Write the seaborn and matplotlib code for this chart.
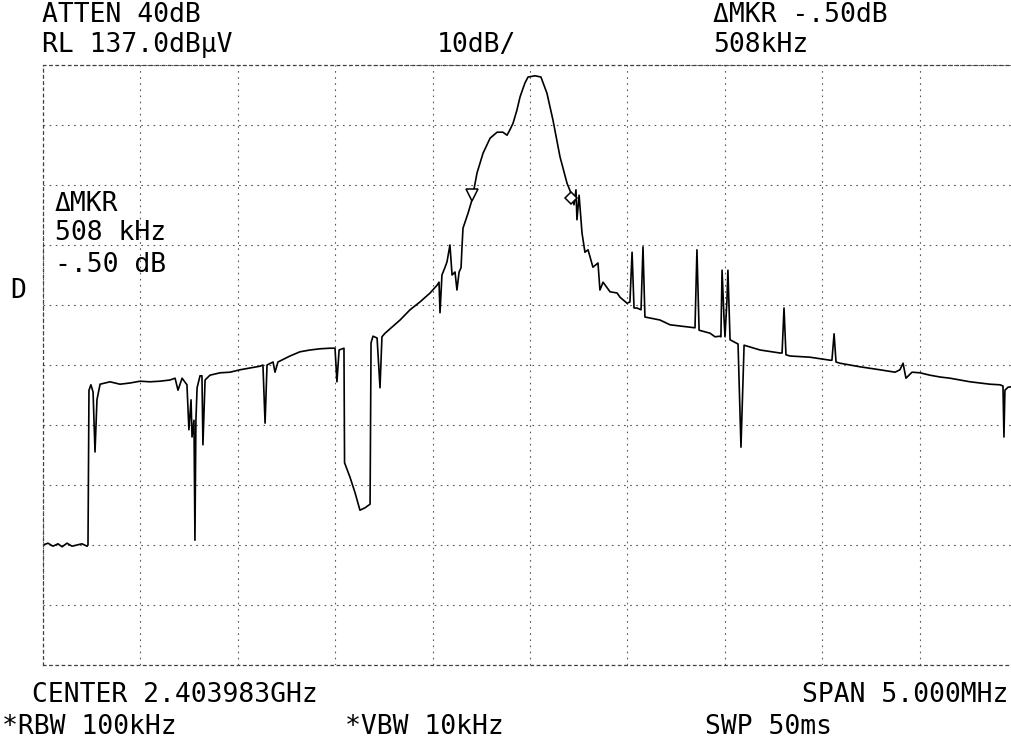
import numpy as np
import pandas as pd
import matplotlib
matplotlib.use("Agg")
import matplotlib.pyplot as plt
import seaborn as sns

# ---- data (frequency offset from center in MHz, level in dBuV) ----
freq_mhz = [
    -2.500, -2.474, -2.449, -2.423, -2.402, -2.377, -2.351, -2.325, -2.300, -2.274, -2.269,
    -2.264, -2.254, -2.243, -2.233, -2.223, -2.207, -2.156, -2.105, -2.053, -2.002, -1.951,
    -1.899, -1.848, -1.822, -1.807, -1.786, -1.761, -1.751, -1.740, -1.735, -1.725, -1.720,
    -1.715, -1.709, -1.694, -1.684, -1.679, -1.668, -1.643, -1.591, -1.540, -1.489, -1.437,
    -1.386, -1.371, -1.360, -1.350, -1.319, -1.309, -1.294, -1.232, -1.181, -1.129, -1.078,
    -1.027, -1.001, -0.991, -0.980, -0.955, -0.952, -0.924, -0.898, -0.873, -0.847, -0.821,
    -0.816, -0.806, -0.785, -0.770, -0.760, -0.744, -0.667, -0.616, -0.565, -0.513, -0.477,
    -0.467, -0.462, -0.452, -0.436, -0.426, -0.411, -0.400, -0.385, -0.375, -0.364, -0.354,
    -0.349, -0.344, -0.318, -0.298, -0.272, -0.241, -0.205, -0.169, -0.139, -0.118, -0.103,
    -0.087, -0.067, -0.051, -0.026, -0.010, 0.026, 0.056, 0.087, 0.118, 0.154, 0.190,
    0.216, 0.226, 0.236, 0.241, 0.252, 0.267, 0.282, 0.298, 0.323, 0.349, 0.359,
    0.375, 0.411, 0.447, 0.462, 0.498, 0.513, 0.524, 0.534, 0.549, 0.570, 0.580,
    0.590, 0.667, 0.719, 0.770, 0.821, 0.847, 0.857, 0.868, 0.924, 0.950, 0.975,
    0.980, 0.986, 0.996, 1.001, 1.011, 1.016, 1.027, 1.068, 1.083, 1.099, 1.181,
    1.283, 1.294, 1.304, 1.314, 1.335, 1.437, 1.540, 1.550, 1.561, 1.571, 1.591,
    1.694, 1.797, 1.874, 1.899, 1.915, 1.930, 1.961, 2.002, 2.053, 2.105, 2.156,
    2.207, 2.259, 2.310, 2.361, 2.413, 2.428, 2.433, 2.438, 2.454, 2.500,
]
level_dbuv = [
    57.0, 57.3, 56.8, 57.2, 56.7, 57.3, 56.8, 57.0, 57.2, 56.8, 57.0,
    82.8, 83.7, 82.5, 72.5, 81.2, 83.8, 84.2, 83.8, 84.0, 84.3, 84.2,
    84.3, 84.5, 84.8, 82.8, 84.8, 83.7, 76.2, 81.2, 75.0, 77.8, 57.8,
    77.8, 83.2, 85.2, 85.2, 73.7, 84.5, 85.3, 85.7, 85.8, 86.2, 86.5,
    86.8, 87.0, 77.3, 87.0, 87.5, 85.8, 87.5, 88.5, 89.2, 89.5, 89.7,
    89.8, 89.8, 84.2, 89.5, 89.8, 70.7, 68.3, 65.7, 62.8, 63.2, 63.8,
    90.7, 91.8, 91.5, 83.2, 91.7, 92.3, 94.5, 96.2, 97.5, 99.0, 100.3,
    100.8, 95.7, 102.0, 103.3, 104.2, 107.0, 102.0, 102.5, 99.5, 102.5, 103.2,
    106.7, 109.8, 112.3, 114.5, 119.0, 122.3, 124.8, 125.8, 125.8, 125.3, 126.2,
    127.3, 129.5, 131.7, 134.0, 135.0, 135.2, 135.0, 132.3, 127.8, 121.7, 117.3,
    115.2, 113.7, 116.2, 111.2, 115.3, 109.0, 105.8, 106.2, 103.3, 104.0, 99.5,
    100.8, 99.2, 99.0, 98.3, 97.3, 97.5, 105.8, 96.5, 96.5, 96.2, 106.7,
    95.0, 94.5, 93.7, 93.5, 93.3, 93.2, 106.2, 92.8, 92.3, 91.7, 91.8,
    91.7, 102.8, 94.8, 91.7, 97.8, 102.8, 91.2, 90.5, 73.3, 90.3, 89.5,
    89.0, 89.0, 96.5, 88.7, 88.5, 88.3, 87.8, 87.8, 92.2, 87.5, 87.3,
    86.7, 86.2, 85.8, 86.2, 87.3, 84.8, 85.8, 85.7, 85.3, 85.0, 84.8,
    84.5, 84.2, 84.0, 83.8, 83.7, 83.5, 75.0, 82.8, 83.3, 83.5,
]
marker_freq = [-0.297, 0.211]
marker_level = [115.4, 114.9]

ref_level = 137.0
db_per_div = 10
span_mhz = 5.0

top_texts_left = ["ATTEN 40dB", "RL 137.0dB\u03bcV"]
scale_text = "10dB/"
top_texts_right = ["\u0394MKR -.50dB", "508kHz"]
inner_texts = ["\u0394MKR", "508 kHz", "-.50 dB"]
bottom_texts = ["CENTER 2.403983GHz", "SPAN 5.000MHz", "*RBW 100kHz", "*VBW 10kHz", "SWP 50ms"]

df = pd.DataFrame({"freq": freq_mhz, "level": level_dbuv})

sns.set_theme(style="white")
plt.rcParams["font.family"] = ["DejaVu Sans Mono", "DejaVu Sans"]

W, H = 1012, 744
fig = plt.figure(figsize=(W / 100, H / 100), dpi=100)
fig.patch.set_facecolor("white")
ax = fig.add_axes([43 / W, (H - 665) / H, 974 / W, 600 / H])
ax.set_facecolor("white")

sns.lineplot(data=df, x="freq", y="level", sort=False, estimator=None,
             color="black", linewidth=1.2, ax=ax)
ax.plot(marker_freq[:1], [marker_level[0]], marker="v", ms=9, mfc="white",
        mec="black", mew=1.1, ls="none")
ax.plot(marker_freq[1:], [marker_level[1]], marker="D", ms=6.5, mfc="white",
        mec="black", mew=1.1, ls="none")

ax.set_xlim(-span_mhz / 2, span_mhz / 2)
ax.set_ylim(ref_level - 10 * db_per_div, ref_level)
ax.set_xticks(np.arange(-2.5, 2.51, 0.5))
ax.set_yticks(np.arange(ref_level - 100, ref_level + 0.1, db_per_div))
ax.tick_params(left=False, bottom=False, labelleft=False, labelbottom=False)
ax.set_xlabel("")
ax.set_ylabel("")
ax.grid(True, color="0.35", linestyle=(0, (1.5, 4)), linewidth=0.8)
for s in ax.spines.values():
    s.set_linestyle((0, (2, 3)))
    s.set_linewidth(0.9)
    s.set_color("0.25")

fs = 19
tk = dict(fontsize=fs, color="black", va="center", ha="left")
fig.text(42 / W, 1 - 15 / H, top_texts_left[0], **tk)
fig.text(42 / W, 1 - 45 / H, top_texts_left[1], **tk)
fig.text(437 / W, 1 - 45 / H, scale_text, **tk)
fig.text(713 / W, 1 - 15 / H, top_texts_right[0], **tk)
fig.text(713 / W, 1 - 45 / H, top_texts_right[1], **tk)
fig.text(55 / W, 1 - 204 / H, inner_texts[0], **tk)
fig.text(55 / W, 1 - 233 / H, inner_texts[1], **tk)
fig.text(55 / W, 1 - 265 / H, inner_texts[2], **tk)
fig.text(10 / W, 1 - 291 / H, "D", **tk)
fig.text(32 / W, 1 - 695 / H, bottom_texts[0], **tk)
fig.text(1008 / W, 1 - 695 / H, bottom_texts[1], fontsize=fs, color="black", va="center", ha="right")
fig.text(2 / W, 1 - 727 / H, bottom_texts[2], **tk)
fig.text(345 / W, 1 - 727 / H, bottom_texts[3], **tk)
fig.text(705 / W, 1 - 727 / H, bottom_texts[4], **tk)

fig.savefig("out.png", dpi=100, facecolor="white")
